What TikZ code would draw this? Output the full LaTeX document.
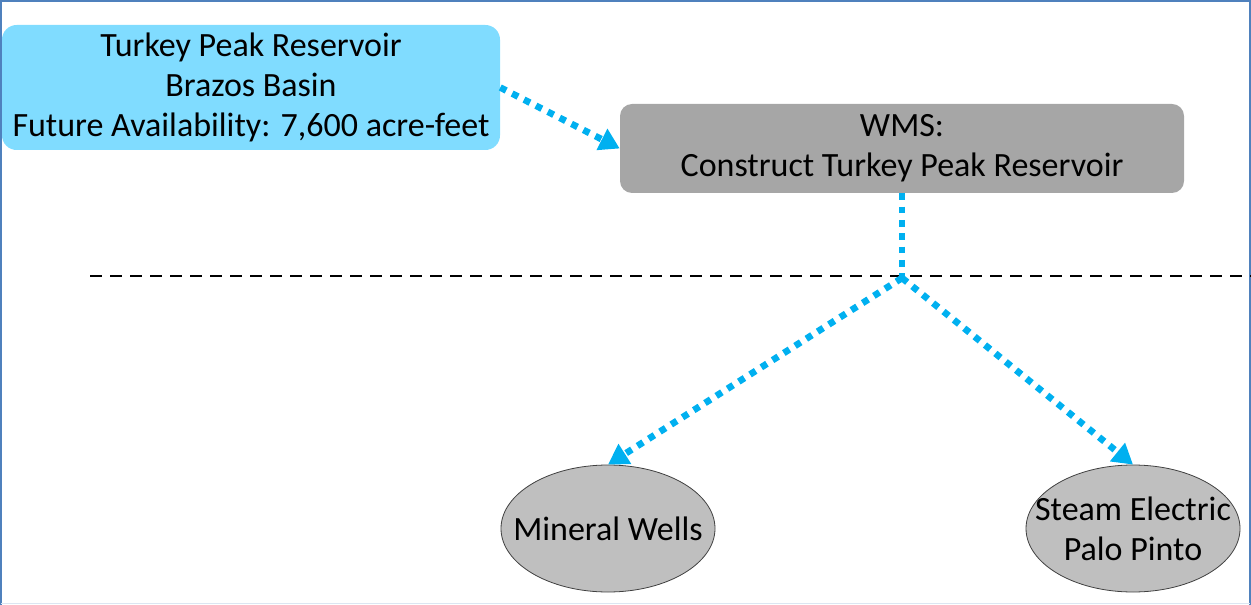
\documentclass[tikz,border=0pt]{standalone}
\usepackage{fontspec}
\setmainfont{Carlito}
\usetikzlibrary{arrows.meta,shapes.geometric}

\definecolor{frameblue}{RGB}{79,129,189}
\definecolor{framelight}{RGB}{220,230,242}
\definecolor{sourcecyan}{RGB}{128,220,255}
\definecolor{wmsgray}{RGB}{166,166,166}
\definecolor{usergray}{RGB}{191,191,191}
\definecolor{linkblue}{RGB}{0,176,240}

\begin{document}
\begin{tikzpicture}[x=0.75pt, y=-0.75pt,
		every node/.style={font=\fontsize{25.5}{30}\selectfont, align=center, inner sep=0pt},
		source/.style={rectangle, rounded corners=11pt, fill=sourcecyan, minimum width=373.5pt, minimum height=93.75pt},
		wms/.style={rectangle, rounded corners=9pt, fill=wmsgray, minimum width=423pt, minimum height=66.75pt},
		user/.style={ellipse, draw=black!75, line width=0.6pt, fill=usergray, minimum width=160.5pt, minimum height=95.25pt},
		link/.style={linkblue, line width=5pt, dash pattern=on 5pt off 5pt},
		linkarrow/.style={link, -{Triangle[length=15pt,width=17pt]}}]
				\useasboundingbox (0,0) rectangle (1251,605);
				% frame
				\draw[frameblue, line width=1.5pt] (1,605) -- (1,1) -- (1249.5,1) -- (1249.5,605);
				\draw[framelight, line width=1.2pt] (1,603.5) -- (1249.5,603.5);
				% boxes
				\node[source] (TPR)at(251, 87.5) {Turkey Peak Reservoir\\Brazos Basin\\Future Availability: 7,600 acre-feet};
				\node[wms] (WMS)at(902, 148.5) {WMS:\\Construct Turkey Peak Reservoir};
				\node[user, label=center:{Mineral Wells}] (MW)at(608, 528.5) {};
				\node[user, label=center:{Steam Electric\\Palo Pinto}] (SEPP)at(1133, 528.5) {};
				% dashed divider
				\coordinate (DL)at(90, 276);
				\coordinate (DR)at(1251, 276);
				\draw[black, line width=1.5pt, dash pattern=on 9pt off 6pt] (DL) -- (DR);
				% connectors
				\coordinate (SPLIT)at(902, 278);
				\draw[linkarrow] (TPR.east) -- (WMS.west);
				\draw[link] (WMS.south) -- (SPLIT);
				\draw[linkarrow] (SPLIT) -- (MW.north);
				\draw[linkarrow] (SPLIT) -- (SEPP.north);
\end{tikzpicture}
\end{document}
